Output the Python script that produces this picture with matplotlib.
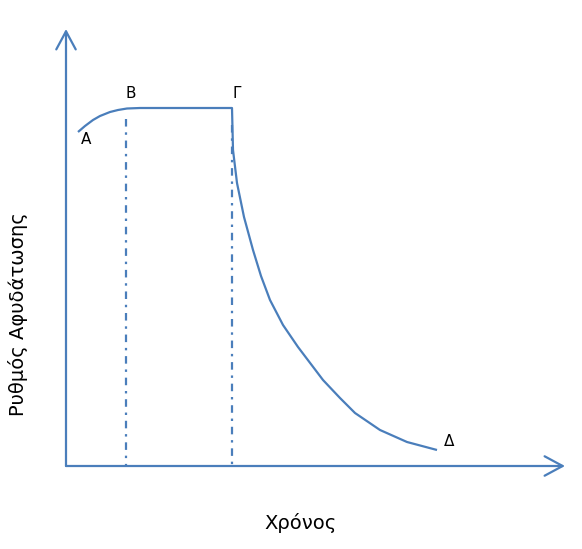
import matplotlib
matplotlib.use("Agg")
import matplotlib.pyplot as plt

# Data in chart units (time from origin, rate from origin)
time_rise = [12, 19, 27, 34, 44, 52, 61, 74]
rate_rise = [334, 340, 346, 350, 354, 356, 357.5, 358]
time_flat = [74, 166]
rate_flat = [358, 358]
time_fall = [166, 167, 171, 178, 187, 195, 204, 217, 232, 257, 274, 289, 314, 341, 371]
rate_fall = [358, 316, 283, 249, 216, 190, 166, 141, 119, 86, 68, 53, 36, 24, 16]
mark_times = [60, 166]
mark_tops = [347, 341]
point_labels = ["Α", "Β", "Γ", "Δ"]
label_time = [20, 65, 171, 383]
label_rate = [326, 373, 373, 25]

x_label = "Χρόνος"
y_label = "Ρυθμός Αφυδάτωσης"

color = "#4A7EBB"
plt.rcParams['font.family'] = ['DejaVu Sans']

fig = plt.figure(figsize=(5.82, 5.49), dpi=100)
ax = fig.add_axes([0, 0, 1, 1])
ax.set_xlim(-66, 516)
ax.set_ylim(-83, 466)
ax.axis('off')

# axes with arrows
ax.annotate("", xy=(499, 0), xytext=(0, 0),
            arrowprops=dict(arrowstyle="->,head_length=1.3,head_width=0.7",
                            color=color, lw=1.6, shrinkA=0, shrinkB=0))
ax.annotate("", xy=(0, 437), xytext=(0, 0),
            arrowprops=dict(arrowstyle="->,head_length=1.3,head_width=0.7",
                            color=color, lw=1.6, shrinkA=0, shrinkB=0))

curve_t = time_rise + time_flat[1:] + time_fall[1:]
curve_r = rate_rise + rate_flat[1:] + rate_fall[1:]
ax.plot(curve_t, curve_r, color=color, lw=1.6, solid_joinstyle='round',
        solid_capstyle='butt')

for t, top in zip(mark_times, mark_tops):
    ax.plot([t, t], [top, 0], color=color, lw=1.6,
            linestyle=(0, (3.4, 2.6, 1.1, 2.6)), dash_capstyle='butt')

for lab, t, r in zip(point_labels, label_time, label_rate):
    ax.text(t, r, lab, fontsize=11, ha='center', va='center', color='black')

ax.text(235, -57, x_label, fontsize=14, ha='center', va='center')
ax.text(-48, 152, y_label, fontsize=14, ha='center', va='center', rotation=90)

fig.savefig("out.png", dpi=100)
